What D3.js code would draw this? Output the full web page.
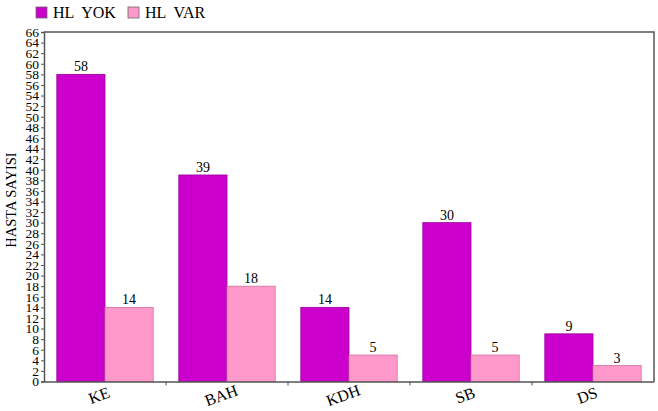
<!DOCTYPE html>
<html lang="tr">
<head>
<meta charset="UTF-8" />
<title>HL</title>
<script src="https://d3js.org/d3.v7.min.js"></script>
<style>
  body { margin: 0; background: #fff; }
  svg text { font-family: "Liberation Serif", "Times New Roman", Tinos, serif !important; }
</style>
</head>
<body>
<svg id="chart" width="658" height="411"></svg>
<script>
const categories = ['KE', 'BAH', 'KDH', 'SB', 'DS'];
const seriesNames = ['HL  YOK', 'HL  VAR'];
const hlYok = [58, 39, 14, 30, 9];
const hlVar = [14, 18, 5, 5, 3];
const yTicks = d3.range(0, 67, 2);

const colors = ['#cc00cc', '#ff99cc'];
const strokes = ['#99009a', '#d0709a'];

const svg = d3.select('#chart');
const margin = { top: 32, right: 4, bottom: 30, left: 44 };
const width = 658, height = 411;
const bottom = height - margin.bottom + 0.5;

const x = d3.scaleBand()
  .domain(categories)
  .range([margin.left, width - margin.right])
  .paddingInner(0.21)
  .paddingOuter(0.105);

const xs = d3.scaleBand()
  .domain([0, 1])
  .range([0, x.bandwidth()]);

const y = d3.scaleLinear()
  .domain([0, 66])
  .range([bottom, margin.top]);

// frame (top + right)
svg.append('path')
  .attr('d', `M${margin.left},${margin.top}H${width - margin.right}V${bottom}`)
  .attr('fill', 'none')
  .attr('stroke', '#555')
  .attr('stroke-width', 1.5);

const series = [hlYok, hlVar];
series.forEach((vals, s) => {
  const g = svg.append('g');
  g.selectAll('rect')
    .data(vals)
    .enter()
    .append('rect')
    .attr('x', (d, i) => x(categories[i]) + xs(s))
    .attr('y', d => y(d))
    .attr('width', xs.bandwidth())
    .attr('height', d => bottom - y(d))
    .attr('fill', colors[s])
    .attr('stroke', strokes[s])
    .attr('stroke-width', 0.8);
  g.selectAll('text')
    .data(vals)
    .enter()
    .append('text')
    .attr('x', (d, i) => x(categories[i]) + xs(s) + xs.bandwidth() / 2)
    .attr('y', d => y(d) - 3)
    .attr('text-anchor', 'middle')
    .attr('font-size', 14)
    .text(d => d);
});

// y axis
const yAxis = svg.append('g')
  .attr('transform', `translate(${margin.left},0)`)
  .call(d3.axisLeft(y).tickValues(yTicks).tickSize(3).tickPadding(2));
yAxis.select('.domain').attr('stroke', '#555').attr('stroke-width', 1.5);
yAxis.selectAll('.tick line').attr('stroke', '#555');
yAxis.selectAll('.tick text')
  .attr('font-size', 13.5)
  .attr('fill', '#000');

// x axis
const xAxis = svg.append('g')
  .attr('transform', `translate(0,${bottom})`)
  .call(d3.axisBottom(x).tickSize(0).tickFormat(''));
xAxis.select('.domain').attr('stroke', '#555').attr('stroke-width', 1.5);

// category separators
svg.append('g').selectAll('line')
  .data(categories.slice(1))
  .enter()
  .append('line')
  .attr('x1', d => x(d) - x.step() * x.paddingInner() / 2)
  .attr('x2', d => x(d) - x.step() * x.paddingInner() / 2)
  .attr('y1', bottom)
  .attr('y2', bottom + 4)
  .attr('stroke', '#555');

svg.append('g').selectAll('text')
  .data(categories)
  .enter()
  .append('text')
  .attr('transform', d => `translate(${x(d) + x.bandwidth() / 2 - 4},${bottom + 19}) rotate(-20)`)
  .attr('text-anchor', 'middle')
  .attr('font-size', 16)
  .text(d => d);

// y label
svg.append('text')
  .attr('transform', `translate(16,200) rotate(-90)`)
  .attr('text-anchor', 'middle')
  .attr('font-size', 14.5)
  .text('HASTA SAYISI');

// legend
const legendX = [36, 128];
const legend = svg.append('g');
seriesNames.forEach((name, i) => {
  legend.append('rect')
    .attr('x', legendX[i])
    .attr('y', 7)
    .attr('width', 11)
    .attr('height', 11)
    .attr('fill', colors[i])
    .attr('stroke', '#666')
    .attr('stroke-width', 0.8);
  legend.append('text')
    .attr('x', legendX[i] + 17)
    .attr('y', 18)
    .attr('font-size', 16)
    .style('white-space', 'pre')
    .text(name);
});
</script>
</body>
</html>
